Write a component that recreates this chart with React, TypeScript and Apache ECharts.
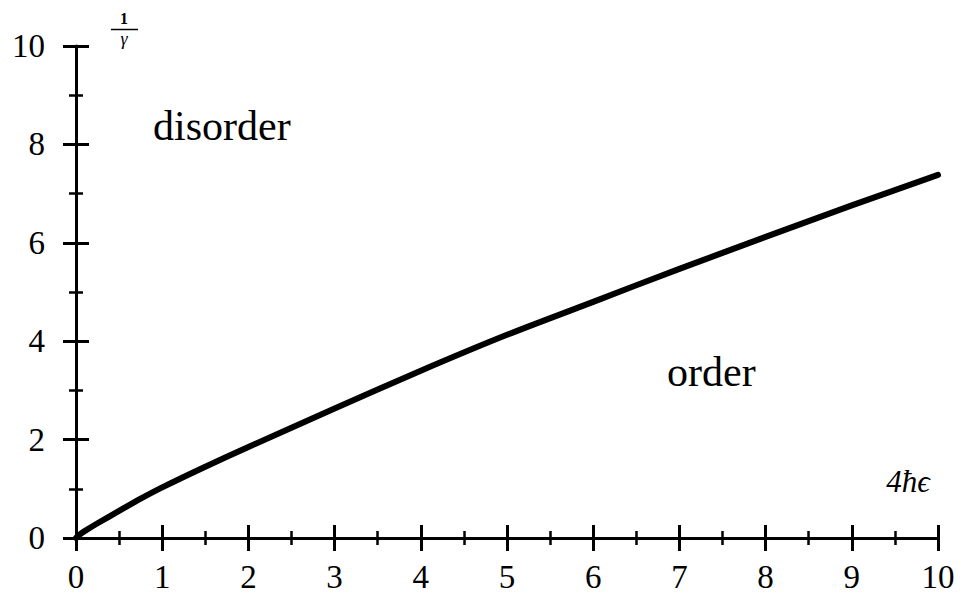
import React, { useEffect, useRef } from "react";
import * as echarts from "echarts";

const xValues = [0, 0.05, 0.1, 0.25, 0.5, 0.75, 1, 1.5, 2, 3, 4, 5, 6, 7, 8, 9, 10];
const yValues = [0, 0.08, 0.14, 0.3, 0.55, 0.8, 1.03, 1.45, 1.85, 2.63, 3.4, 4.13, 4.8, 5.47, 6.12, 6.76, 7.38];
const xTicks = { min: 0, max: 10, interval: 1 };
const yTicks = { min: 0, max: 10, interval: 2 };
const regionLabels = ["disorder", "order"];
const yAxisName = { num: "1", den: "γ" };
const xAxisName = "4ħϵ";

const SERIF = "'Liberation Serif', 'Times New Roman', serif";

export default function App() {
  const ref = useRef<HTMLDivElement>(null);
  useEffect(() => {
    if (!ref.current) return;
    const chart = echarts.init(ref.current, null, { renderer: "svg" });
    const lineStyle = { color: "#000", width: 3 };
    const tickLen = 13;
    const minorLen = 7;
    const baseX = {
      type: "value" as const,
      min: xTicks.min,
      max: xTicks.max,
      interval: xTicks.interval,
      position: "bottom" as const,
      splitLine: { show: false },
    };
    const baseY = {
      type: "value" as const,
      min: yTicks.min,
      max: yTicks.max,
      interval: yTicks.interval,
      position: "left" as const,
      splitLine: { show: false },
    };
    chart.setOption({
      animation: false,
      backgroundColor: "#fff",
      textStyle: { fontFamily: SERIF },
      grid: { left: 76, right: 27, top: 46, bottom: 66, containLabel: false },
      xAxis: [
        {
          ...baseX,
          axisLine: { show: true, onZero: false, lineStyle },
          axisTick: { show: true, inside: false, length: tickLen, lineStyle: { color: "#000", width: 3 } },
          minorTick: { show: true, splitNumber: 2, length: minorLen, lineStyle: { color: "#000", width: 2.5 } },
          axisLabel: {
            show: true,
            margin: 22,
            color: "#000",
            fontFamily: SERIF,
            fontSize: 33,
          },
        },
        {
          ...baseX,
          axisLine: { show: false, onZero: false },
          axisTick: { show: true, inside: true, length: tickLen, lineStyle: { color: "#000", width: 3 } },
          minorTick: { show: true, splitNumber: 2, length: minorLen, lineStyle: { color: "#000", width: 2.5 } },
          axisLabel: { show: false },
        },
      ],
      yAxis: [
        {
          ...baseY,
          axisLine: { show: true, onZero: false, lineStyle },
          axisTick: { show: true, inside: false, length: tickLen, lineStyle: { color: "#000", width: 3 } },
          minorTick: { show: true, splitNumber: 2, length: minorLen, lineStyle: { color: "#000", width: 2.5 } },
          axisLabel: {
            show: true,
            margin: 31,
            color: "#000",
            fontFamily: SERIF,
            fontSize: 33,
            padding: [9, 0, 0, 0],
          },
        },
        {
          ...baseY,
          axisLine: { show: false, onZero: false },
          axisTick: { show: true, inside: true, length: tickLen, lineStyle: { color: "#000", width: 3 } },
          minorTick: { show: true, splitNumber: 2, length: minorLen, lineStyle: { color: "#000", width: 2.5 } },
          axisLabel: { show: false },
        },
      ],
      series: [
        {
          type: "line",
          xAxisIndex: 0,
          yAxisIndex: 0,
          data: xValues.map((x, i) => [x, yValues[i]]),
          showSymbol: false,
          smooth: 0.25,
          lineStyle: { color: "#000", width: 6, join: "round", cap: "round" },
          z: 5,
        },
      ],
      graphic: [
        {
          type: "text",
          x: 153,
          y: 126,
          style: {
            text: regionLabels[0],
            fontFamily: SERIF,
            fontSize: 42,
            fill: "#000",
            verticalAlign: "middle",
          },
        },
        {
          type: "text",
          x: 667,
          y: 372,
          style: {
            text: regionLabels[1],
            fontFamily: SERIF,
            fontSize: 42,
            fill: "#000",
            verticalAlign: "middle",
          },
        },
        {
          type: "text",
          x: 124,
          y: 18,
          style: {
            text: yAxisName.num,
            fontFamily: SERIF,
            fontSize: 16,
            fontWeight: "bold",
            fill: "#000",
            align: "center",
            verticalAlign: "middle",
          },
        },
        {
          type: "line",
          shape: { x1: 111, y1: 29.5, x2: 138, y2: 29.5 },
          style: { stroke: "#000", lineWidth: 1.5 },
        },
        {
          type: "text",
          x: 124,
          y: 38.5,
          style: {
            text: yAxisName.den,
            fontFamily: SERIF,
            fontSize: 18,
            fontStyle: "italic",
            fill: "#000",
            align: "center",
            verticalAlign: "middle",
          },
        },
        {
          type: "text",
          x: 908,
          y: 481,
          style: {
            text: xAxisName,
            fontFamily: SERIF,
            fontSize: 31,
            fontStyle: "italic",
            fill: "#000",
            align: "center",
            verticalAlign: "middle",
          },
        },
      ],
    });
    return () => chart.dispose();
  }, []);
  return (
    <div
      ref={ref}
      style={{ position: "fixed", left: 0, top: 0, width: 965, height: 604, background: "#fff" }}
    />
  );
}
